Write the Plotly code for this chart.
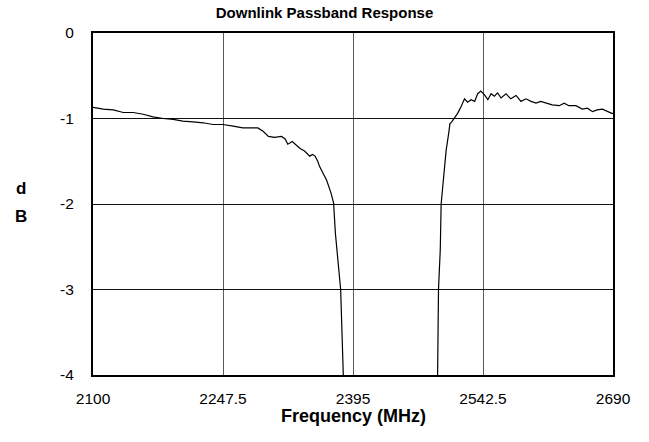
import plotly.graph_objects as go

# Lower passband (2100 -> below -4 dB)
freq_low = [2100, 2111.7, 2123, 2134.3, 2145.6, 2157, 2168, 2179.6, 2191, 2202, 2213.5,
            2225, 2236, 2247.5, 2259, 2270, 2281, 2287, 2293, 2299, 2306, 2314, 2318,
            2321, 2326, 2330, 2335, 2340, 2346, 2349, 2352, 2355, 2357, 2361, 2365,
            2370, 2373, 2375, 2378, 2381, 2384, 2386]
db_low = [-0.87, -0.89, -0.90, -0.93, -0.93, -0.95, -0.98, -1.00, -1.01, -1.03, -1.04,
          -1.05, -1.07, -1.07, -1.09, -1.11, -1.11, -1.11, -1.15, -1.21, -1.22, -1.21, -1.24,
          -1.30, -1.27, -1.31, -1.35, -1.38, -1.44, -1.42, -1.44, -1.50, -1.56, -1.64, -1.72,
          -1.87, -1.99, -2.34, -2.69, -3.00, -4.00, -4.30]

# Upper passband (below -4 dB -> 2690)
freq_high = [2490, 2491, 2492, 2494, 2495, 2497.7, 2500.7, 2503.6, 2505, 2507, 2510,
             2513.7, 2517.7, 2521.5, 2525, 2529, 2533, 2536.5, 2540, 2544, 2548, 2551.7,
             2555.4, 2559, 2563, 2568.6, 2574, 2580, 2585.6, 2591.3, 2597, 2602.6, 2608,
             2614, 2621, 2629, 2634.6, 2640, 2648, 2655, 2661, 2666.7, 2672, 2678, 2683.5,
             2688.6, 2690]
db_high = [-4.30, -4.00, -3.00, -2.54, -2.00, -1.68, -1.37, -1.17, -1.06, -1.04, -1.00,
           -0.94, -0.86, -0.77, -0.81, -0.78, -0.80, -0.71, -0.68, -0.72, -0.78, -0.71,
           -0.74, -0.70, -0.76, -0.71, -0.77, -0.73, -0.80, -0.77, -0.80, -0.82, -0.80,
           -0.82, -0.84, -0.85, -0.82, -0.85, -0.85, -0.89, -0.88, -0.92, -0.90, -0.89, -0.92,
           -0.94, -0.94]

x_ticks = [2100, 2247.5, 2395, 2542.5, 2690]
x_tick_labels = ["2100", "2247.5", "2395", "2542.5", "2690"]
y_ticks = [0, -1, -2, -3, -4]

fig = go.Figure()
fig.add_trace(go.Scatter(x=freq_low, y=db_low, mode="lines",
                         line=dict(color="black", width=1.2), showlegend=False))
fig.add_trace(go.Scatter(x=freq_high, y=db_high, mode="lines",
                         line=dict(color="black", width=1.2), showlegend=False))

font_family = "Liberation Sans, Arial, sans-serif"
fig.update_layout(
    width=649, height=442,
    margin=dict(l=93, r=36, t=33, b=67),
    paper_bgcolor="white", plot_bgcolor="white",
    font=dict(family=font_family, size=15.5, color="black"),
    title=dict(text="<b>Downlink Passband Response</b>", x=0.5, xanchor="center",
               xref="container", y=0.971, yanchor="middle", yref="container",
               font=dict(size=15, family=font_family, color="black")),
    xaxis=dict(range=[2100, 2690], tickvals=x_ticks, ticktext=x_tick_labels,
               showgrid=True, gridcolor="#5a5a5a", gridwidth=1,
               showline=True, linecolor="black", linewidth=2, mirror=True,
               ticks="", zeroline=False, ticklabelstandoff=8),
    yaxis=dict(range=[-4, 0], tickvals=y_ticks, ticktext=[str(v) for v in y_ticks],
               showgrid=True, gridcolor="#111111", gridwidth=1,
               showline=True, linecolor="black", linewidth=2, mirror=True,
               ticks="", zeroline=False, ticklabelstandoff=14),
    annotations=[
        dict(text="<b>Frequency (MHz)</b>", x=0.5, y=-0.12, xref="paper", yref="paper",
             showarrow=False, font=dict(size=18, family=font_family),
             xanchor="center", yanchor="middle"),
        dict(text="<b>d</b>", x=-0.1385, y=0.544, xref="paper", yref="paper",
             showarrow=False, font=dict(size=17, family=font_family),
             xanchor="center", yanchor="middle"),
        dict(text="<b>B</b>", x=-0.1385, y=0.462, xref="paper", yref="paper",
             showarrow=False, font=dict(size=17, family=font_family),
             xanchor="center", yanchor="middle"),
    ],
)

fig.write_html("out.html",
               config={"displayModeBar": False},
               post_script="document.body.style.margin='0';document.documentElement.style.margin='0';")
